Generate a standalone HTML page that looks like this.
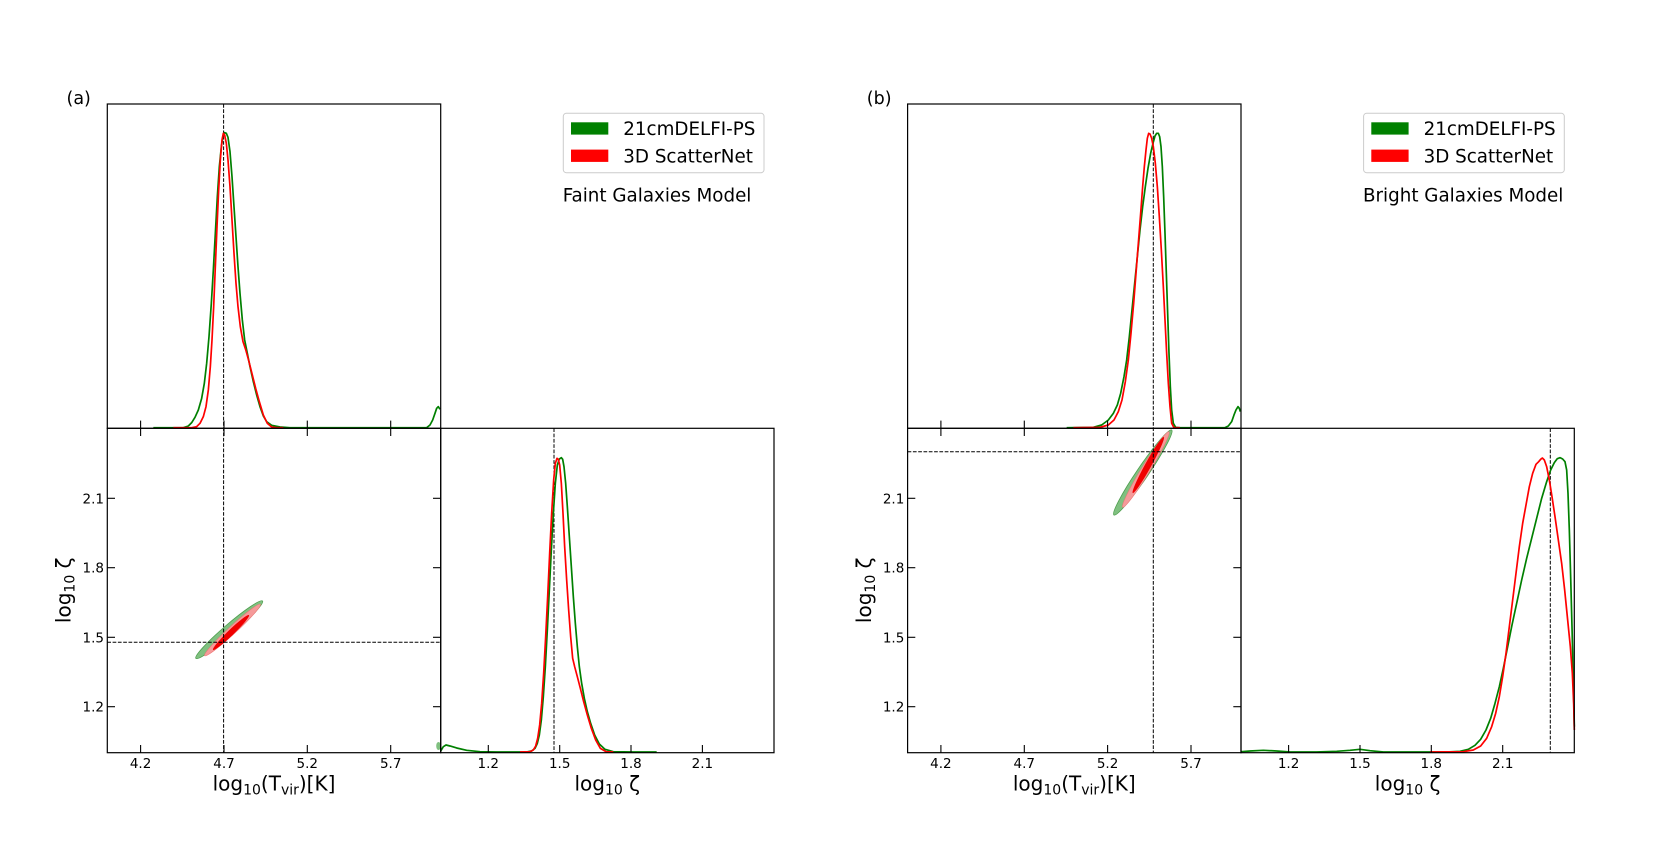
<!DOCTYPE html>
<html><head><meta charset="utf-8"><style>
html,body{margin:0;padding:0;background:#fff;}
svg{display:block;}
text{font-family:"DejaVu Sans","Liberation Sans",sans-serif;fill:#000;}
.sp{fill:none;stroke:#000;stroke-width:1.2;}
.tk{stroke:#000;stroke-width:1.1;}
.ds{stroke:#000;stroke-width:1;stroke-dasharray:3.7,1.6;fill:none;}
.g{fill:none;stroke:#008000;stroke-width:1.7;vector-effect:non-scaling-stroke;stroke-linejoin:round;}
.r{fill:none;stroke:#ff0000;stroke-width:1.7;vector-effect:non-scaling-stroke;stroke-linejoin:round;}
.tl{font-size:13.5px;}
.al{font-size:20px;}
.lg{font-size:18.3px;}
</style></head><body>
<svg width="1660" height="862" viewBox="0 0 1660 862" xmlns="http://www.w3.org/2000/svg">
<rect width="1660" height="862" fill="#fff"/>

<!-- ================= PANEL A ================= -->
<text x="66.5" y="104" font-size="17.5">(a)</text>

<g>
<ellipse cx="229.2" cy="629.7" rx="44" ry="5.2" transform="rotate(-40.7 229.2 629.7)" fill="#80c080" stroke="#4e9e4e" stroke-width="0.8"/>
<ellipse cx="232.5" cy="630" rx="38" ry="3.9" transform="rotate(-42.7 232.5 630)" fill="#f59a9a" stroke="#ee7070" stroke-width="0.5"/>
<ellipse cx="231" cy="632.5" rx="25" ry="2.9" transform="rotate(-44 231 632.5)" fill="#f00000"/>
<ellipse cx="438.5" cy="746" rx="2.3" ry="4" fill="#80c080"/>
</g>

<line class="ds" x1="223.6" y1="104" x2="223.6" y2="752.7"/>
<line class="ds" x1="107.3" y1="642.3" x2="440.7" y2="642.3"/>
<line class="ds" x1="554" y1="428.3" x2="554" y2="752.7"/>

<g transform="translate(50,80) scale(0.33333)">
<path class="g" d="M310,1043 L400,1043 L415,1038 L425,1028 L435,1012 L445,990 L455,955 L463,910 L470,850 L477,770 L484,670 L490,570 L496,460 L502,350 L508,260 L514,200 L519,168 L524,158 L529,160 L534,172 L540,215 L546,290 L552,380 L558,470 L564,560 L570,640 L577,720 L584,780 L592,820 L600,860 L610,905 L620,945 L630,980 L640,1008 L650,1025 L665,1036 L690,1041 L720,1043 L1130,1043 L1140,1035 L1148,1020 L1155,1000 L1160,985 L1165,980 L1170,988"/>
<path class="r" d="M370,1043 L425,1043 L440,1040 L450,1030 L460,1010 L468,980 L475,930 L481,860 L486,780 L491,680 L496,560 L501,440 L506,330 L511,240 L516,180 L520,160 L524,165 L529,190 L534,240 L540,320 L546,420 L552,520 L558,610 L564,680 L571,740 L579,785 L588,812 L597,845 L607,885 L617,925 L628,965 L640,1005 L652,1030 L665,1041 L680,1043 L700,1043"/>
</g>

<g transform="translate(420,420) scale(0.33333)">
<path class="g" d="M62,993 L70,980 L78,975 L90,978 L110,984 L140,991 L180,995 L230,996 L320,996 L335,993 L345,985 L352,970 L358,945 L364,900 L370,830 L376,740 L382,630 L388,510 L394,390 L400,280 L406,190 L412,135 L418,117 L424,113 L428,118 L432,140 L437,190 L442,260 L448,350 L454,440 L460,530 L466,610 L472,680 L478,740 L485,790 L493,835 L502,875 L512,910 L524,945 L538,972 L555,988 L580,995 L640,996 L710,996"/>
<path class="r" d="M300,996 L330,995 L340,990 L347,978 L353,955 L359,915 L365,850 L371,760 L377,650 L383,530 L389,400 L395,280 L401,180 L406,130 L411,115 L415,118 L419,135 L424,190 L429,280 L434,380 L440,480 L446,570 L452,650 L458,715 L464,740 L472,770 L481,805 L491,845 L502,885 L514,925 L527,960 L541,985 L558,995 L580,996"/>
</g>

<rect class="sp" x="107.3" y="104" width="333.4" height="324.3"/>
<rect class="sp" x="107.3" y="428.3" width="333.4" height="324.4"/>
<rect class="sp" x="440.7" y="428.3" width="333.3" height="324.4"/>

<g class="tk">
<line x1="140.6" y1="420.6" x2="140.6" y2="436"/>
<line x1="224" y1="420.6" x2="224" y2="436"/>
<line x1="307.3" y1="420.6" x2="307.3" y2="436"/>
<line x1="390.7" y1="420.6" x2="390.7" y2="436"/>
<line x1="140.6" y1="745" x2="140.6" y2="752.7"/>
<line x1="224" y1="745" x2="224" y2="752.7"/>
<line x1="307.3" y1="745" x2="307.3" y2="752.7"/>
<line x1="390.7" y1="745" x2="390.7" y2="752.7"/>
<line x1="107.3" y1="498.3" x2="115" y2="498.3"/>
<line x1="107.3" y1="567.7" x2="115" y2="567.7"/>
<line x1="107.3" y1="637.3" x2="115" y2="637.3"/>
<line x1="107.3" y1="706.7" x2="115" y2="706.7"/>
<line x1="433" y1="498.3" x2="440.7" y2="498.3"/>
<line x1="433" y1="567.7" x2="440.7" y2="567.7"/>
<line x1="433" y1="637.3" x2="440.7" y2="637.3"/>
<line x1="433" y1="706.7" x2="440.7" y2="706.7"/>
<line x1="488.3" y1="745" x2="488.3" y2="752.7"/>
<line x1="559.7" y1="745" x2="559.7" y2="752.7"/>
<line x1="631" y1="745" x2="631" y2="752.7"/>
<line x1="702.4" y1="745" x2="702.4" y2="752.7"/>
</g>

<g class="tl" text-anchor="middle">
<text x="140.6" y="768">4.2</text>
<text x="224" y="768">4.7</text>
<text x="307.3" y="768">5.2</text>
<text x="390.7" y="768">5.7</text>
<text x="488.3" y="768">1.2</text>
<text x="559.7" y="768">1.5</text>
<text x="631" y="768">1.8</text>
<text x="702.4" y="768">2.1</text>
</g>
<g class="tl" text-anchor="end">
<text x="104" y="503.3">2.1</text>
<text x="104" y="572.7">1.8</text>
<text x="104" y="642.3">1.5</text>
<text x="104" y="711.7">1.2</text>
</g>

<text class="al" x="274" y="790.7" text-anchor="middle">log<tspan font-size="14" dy="4">10</tspan><tspan dy="-4">(T</tspan><tspan font-size="14" dy="4">vir</tspan><tspan dy="-4">)[K]</tspan></text>
<text class="al" x="607.3" y="790.7" text-anchor="middle">log<tspan font-size="14" dy="4">10</tspan><tspan dy="-4"> ζ</tspan></text>
<text class="al" transform="translate(70.5,590.3) rotate(-90)" text-anchor="middle">log<tspan font-size="14" dy="4">10</tspan><tspan dy="-4"> ζ</tspan></text>

<rect x="563.3" y="113.3" width="200.7" height="59.4" rx="3" ry="3" fill="#fff" stroke="#cccccc" stroke-width="1"/>
<rect x="571" y="122.3" width="37.3" height="12.3" fill="#008000"/>
<rect x="571" y="149.6" width="37.3" height="12.3" fill="#ff0000"/>
<text class="lg" x="623.3" y="135">21cmDELFI-PS</text>
<text class="lg" x="623.3" y="162.5">3D ScatterNet</text>
<text class="lg" x="562.7" y="201.5">Faint Galaxies Model</text>

<!-- ================= PANEL B ================= -->
<text x="866.8" y="104" font-size="17.5">(b)</text>

<g>
<ellipse cx="1142.8" cy="472.5" rx="51.4" ry="5.8" transform="rotate(-55.8 1142.8 472.5)" fill="#80c080" stroke="#4e9e4e" stroke-width="0.8"/>
<ellipse cx="1145.8" cy="469.5" rx="44.3" ry="4.3" transform="rotate(-58.5 1145.8 469.5)" fill="#f59a9a" stroke="#ee7070" stroke-width="0.5"/>
<ellipse cx="1148.3" cy="465" rx="32" ry="3.1" transform="rotate(-61 1148.3 465)" fill="#f00000"/>
</g>

<line class="ds" x1="1153.3" y1="104" x2="1153.3" y2="752.7"/>
<line class="ds" x1="907.6" y1="451.7" x2="1241" y2="451.7"/>
<line class="ds" x1="1550.3" y1="428.3" x2="1550.3" y2="752.7"/>

<g transform="translate(860,80) scale(0.33333)">
<path class="g" d="M620,1043 L700,1042 L725,1035 L745,1020 L760,1000 L772,975 L782,940 L792,890 L800,840 L808,770 L816,690 L824,610 L832,530 L840,450 L848,380 L856,320 L864,265 L872,220 L879,190 L885,168 L890,160 L895,160 L899,170 L903,200 L907,260 L911,350 L915,460 L919,580 L923,700 L927,820 L931,920 L935,990 L940,1030 L947,1042 L960,1043 L1095,1043 L1105,1038 L1115,1025 L1122,1005 L1128,990 L1134,980 L1138,985 L1141,995"/>
<path class="r" d="M640,1043 L720,1042 L745,1035 L762,1020 L775,995 L786,960 L796,905 L805,840 L813,760 L821,670 L828,580 L835,490 L842,400 L848,320 L853,260 L858,210 L862,175 L866,160 L870,162 L875,175 L880,200 L886,250 L892,320 L898,410 L904,510 L910,620 L915,720 L920,820 L925,910 L930,980 L935,1030 L942,1043 L960,1043"/>
</g>

<g transform="translate(1230,420) scale(0.33333)">
<path class="g" d="M33,995 L60,993 L100,991 L140,993 L180,996 L260,996 L320,994 L360,991 L390,988 L420,992 L460,996 L650,996 L690,994 L715,988 L735,976 L752,958 L768,930 L782,895 L795,850 L808,800 L820,745 L833,680 L846,615 L860,550 L875,480 L890,415 L905,355 L920,295 L935,235 L950,185 L962,150 L973,128 L982,116 L990,113 L998,117 L1005,125 L1010,150 L1014,220 L1018,330 L1022,470 L1026,620 L1030,780 L1033,920"/>
<path class="r" d="M600,996 L700,995 L730,990 L752,978 L770,955 L785,920 L797,880 L808,830 L818,770 L828,700 L838,620 L848,540 L858,460 L868,380 L878,310 L888,255 L898,200 L908,160 L918,133 L926,125 L932,118 L937,114 L943,120 L950,140 L958,180 L966,230 L975,290 L985,360 L995,430 L1004,510 L1013,600 L1021,680 L1027,760 L1031,850 L1033,930"/>
</g>

<rect class="sp" x="907.6" y="104" width="333.4" height="324.3"/>
<rect class="sp" x="907.6" y="428.3" width="333.4" height="324.4"/>
<rect class="sp" x="1241" y="428.3" width="333.3" height="324.4"/>

<g class="tk">
<line x1="940.9" y1="420.6" x2="940.9" y2="436"/>
<line x1="1024.3" y1="420.6" x2="1024.3" y2="436"/>
<line x1="1107.6" y1="420.6" x2="1107.6" y2="436"/>
<line x1="1191" y1="420.6" x2="1191" y2="436"/>
<line x1="940.9" y1="745" x2="940.9" y2="752.7"/>
<line x1="1024.3" y1="745" x2="1024.3" y2="752.7"/>
<line x1="1107.6" y1="745" x2="1107.6" y2="752.7"/>
<line x1="1191" y1="745" x2="1191" y2="752.7"/>
<line x1="907.6" y1="498.3" x2="915.3" y2="498.3"/>
<line x1="907.6" y1="567.7" x2="915.3" y2="567.7"/>
<line x1="907.6" y1="637.3" x2="915.3" y2="637.3"/>
<line x1="907.6" y1="706.7" x2="915.3" y2="706.7"/>
<line x1="1233.3" y1="498.3" x2="1241" y2="498.3"/>
<line x1="1233.3" y1="567.7" x2="1241" y2="567.7"/>
<line x1="1233.3" y1="637.3" x2="1241" y2="637.3"/>
<line x1="1233.3" y1="706.7" x2="1241" y2="706.7"/>
<line x1="1288.6" y1="745" x2="1288.6" y2="752.7"/>
<line x1="1360" y1="745" x2="1360" y2="752.7"/>
<line x1="1431.3" y1="745" x2="1431.3" y2="752.7"/>
<line x1="1502.7" y1="745" x2="1502.7" y2="752.7"/>
</g>

<g class="tl" text-anchor="middle">
<text x="940.9" y="768">4.2</text>
<text x="1024.3" y="768">4.7</text>
<text x="1107.6" y="768">5.2</text>
<text x="1191" y="768">5.7</text>
<text x="1288.6" y="768">1.2</text>
<text x="1360" y="768">1.5</text>
<text x="1431.3" y="768">1.8</text>
<text x="1502.7" y="768">2.1</text>
</g>
<g class="tl" text-anchor="end">
<text x="904.3" y="503.3">2.1</text>
<text x="904.3" y="572.7">1.8</text>
<text x="904.3" y="642.3">1.5</text>
<text x="904.3" y="711.7">1.2</text>
</g>

<text class="al" x="1074.3" y="790.7" text-anchor="middle">log<tspan font-size="14" dy="4">10</tspan><tspan dy="-4">(T</tspan><tspan font-size="14" dy="4">vir</tspan><tspan dy="-4">)[K]</tspan></text>
<text class="al" x="1407.6" y="790.7" text-anchor="middle">log<tspan font-size="14" dy="4">10</tspan><tspan dy="-4"> ζ</tspan></text>
<text class="al" transform="translate(870.8,590.3) rotate(-90)" text-anchor="middle">log<tspan font-size="14" dy="4">10</tspan><tspan dy="-4"> ζ</tspan></text>

<rect x="1363.6" y="113.3" width="200.7" height="59.4" rx="3" ry="3" fill="#fff" stroke="#cccccc" stroke-width="1"/>
<rect x="1371.3" y="122.3" width="37.3" height="12.3" fill="#008000"/>
<rect x="1371.3" y="149.6" width="37.3" height="12.3" fill="#ff0000"/>
<text class="lg" x="1423.6" y="135">21cmDELFI-PS</text>
<text class="lg" x="1423.6" y="162.5">3D ScatterNet</text>
<text class="lg" x="1363" y="201.5">Bright Galaxies Model</text>
</svg>
</body></html>
